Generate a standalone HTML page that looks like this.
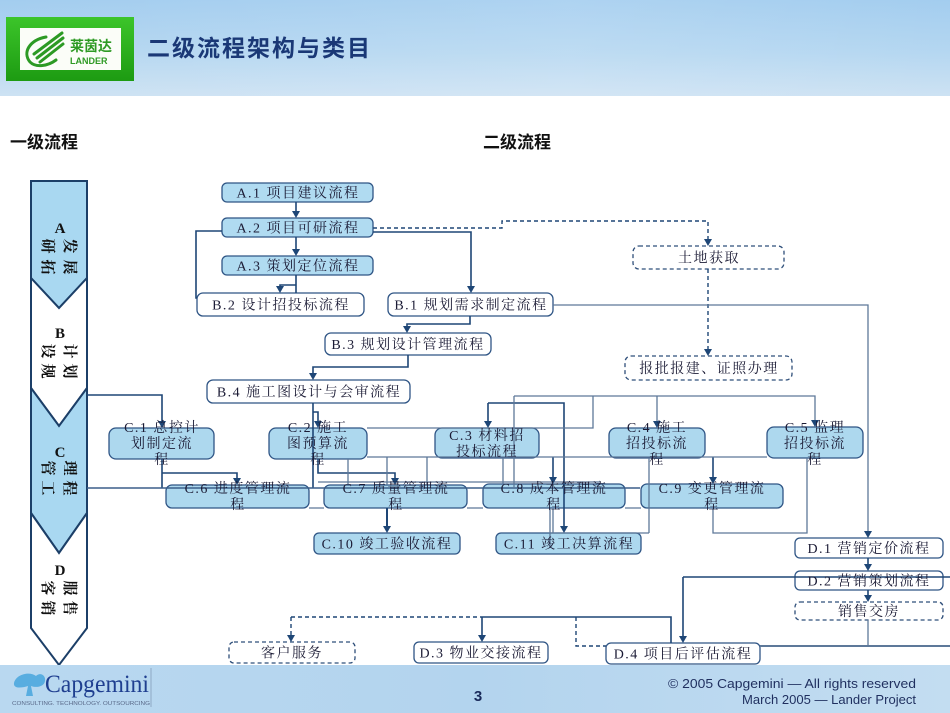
<!DOCTYPE html>
<html><head><meta charset="utf-8"><style>
html,body{margin:0;padding:0;background:#fff;}
body{width:950px;height:713px;overflow:hidden;position:relative;}
svg{display:block;position:absolute;left:0;top:0;}
</style></head><body>
<svg width="950" height="713" viewBox="0 0 950 713" xmlns="http://www.w3.org/2000/svg">
<defs>
<linearGradient id="hdr" x1="0" y1="0" x2="0" y2="1">
<stop offset="0" stop-color="#a3cdef"/><stop offset="0.55" stop-color="#b5d7f1"/><stop offset="1" stop-color="#cde2f3"/>
</linearGradient>
<linearGradient id="hdr2" x1="0" y1="0" x2="1" y2="0">
<stop offset="0" stop-color="#ffffff" stop-opacity="0"/><stop offset="0.6" stop-color="#ffffff" stop-opacity="0.12"/><stop offset="1" stop-color="#ffffff" stop-opacity="0"/>
</linearGradient>
<linearGradient id="ftr" x1="0" y1="0" x2="1" y2="0">
<stop offset="0" stop-color="#b9d8f0"/><stop offset="0.5" stop-color="#b3d4ee"/><stop offset="1" stop-color="#c3ddf1"/>
</linearGradient>
<linearGradient id="grn" x1="0" y1="0" x2="0" y2="1">
<stop offset="0" stop-color="#3cc52a"/><stop offset="1" stop-color="#1d9b12"/>
</linearGradient>
</defs>

<!-- header -->
<rect x="0" y="0" width="950" height="96" fill="url(#hdr)"/>
<rect x="0" y="0" width="950" height="96" fill="url(#hdr2)"/>
<rect x="6" y="17" width="128" height="64" fill="url(#grn)"/>
<rect x="20" y="28" width="101" height="42" fill="#fbfdf8"/>
<g fill="none" stroke="#2c9a24" stroke-width="3" stroke-linecap="round">
<path d="M46,37 C30,40 22,52 30,62 C36,68 48,66 56,60"/>
<path d="M34,54 L62,33"/>
<path d="M37,58 L63,38"/>
<path d="M40,62 L63,44"/>
</g>
<text x="70" y="51" font-family="'Noto Sans CJK SC',sans-serif" font-weight="700" font-size="14" fill="#2e9a24">莱茵达</text>
<text x="70" y="64" font-family="'Liberation Sans',sans-serif" font-weight="700" font-size="9" fill="#2e9a24">LANDER</text>
<text x="147" y="56" font-family="'Noto Sans CJK SC',sans-serif" font-weight="700" font-size="23" letter-spacing="2" fill="#1a3876">二级流程架构与类目</text>

<!-- section labels -->
<text x="10" y="148" font-family="'Noto Sans CJK SC',sans-serif" font-weight="700" font-size="17" fill="#111">一级流程</text>
<text x="483" y="148" font-family="'Noto Sans CJK SC',sans-serif" font-weight="700" font-size="17" fill="#111">二级流程</text>

<!-- left chevrons -->
<g stroke="#1c3f68" stroke-width="2" stroke-linejoin="miter">
<path d="M31,181 H87 V278 L59,308 L31,278 Z" fill="#a9d8f1"/>
<path d="M31,278 L59,308 L87,278 V388 L59,426 L31,388 Z" fill="#ffffff"/>
<path d="M31,388 L59,426 L87,388 V513 L59,553 L31,513 Z" fill="#a9d8f1"/>
<path d="M31,513 L59,553 L87,513 V628 L59,665 L31,628 Z" fill="#ffffff"/>
</g>
<g font-family="'Liberation Serif','Noto Serif CJK SC',serif" font-weight="700" font-size="15" fill="#111" text-anchor="middle">
<text x="60" y="233">A</text>
<text transform="translate(48,246) rotate(90)" dy="5">研</text>
<text transform="translate(70,246) rotate(90)" dy="5">发</text>
<text transform="translate(48,267) rotate(90)" dy="5">拓</text>
<text transform="translate(70,267) rotate(90)" dy="5">展</text>
<text x="60" y="338">B</text>
<text transform="translate(48,351) rotate(90)" dy="5">设</text>
<text transform="translate(70,351) rotate(90)" dy="5">计</text>
<text transform="translate(48,371) rotate(90)" dy="5">规</text>
<text transform="translate(70,371) rotate(90)" dy="5">划</text>
<text x="60" y="457">C</text>
<text transform="translate(48,468) rotate(90)" dy="5">管</text>
<text transform="translate(70,468) rotate(90)" dy="5">理</text>
<text transform="translate(48,488) rotate(90)" dy="5">工</text>
<text transform="translate(70,488) rotate(90)" dy="5">程</text>
<text x="60" y="575">D</text>
<text transform="translate(48,588) rotate(90)" dy="5">客</text>
<text transform="translate(70,588) rotate(90)" dy="5">服</text>
<text transform="translate(48,608) rotate(90)" dy="5">销</text>
<text transform="translate(70,608) rotate(90)" dy="5">售</text>
</g>

<!-- boxes -->
<g stroke="#2f5585" stroke-width="1.3">
<rect x="222" y="183" width="151" height="19" rx="5" fill="#b0dbf1"/>
<rect x="222" y="218" width="151" height="19" rx="5" fill="#b0dbf1"/>
<rect x="222" y="256" width="151" height="19" rx="5" fill="#b0dbf1"/>
<rect x="197" y="293" width="167" height="23" rx="6" fill="#fff"/>
<rect x="388" y="293" width="165" height="23" rx="6" fill="#fff"/>
<rect x="325" y="333" width="166" height="22" rx="6" fill="#fff"/>
<rect x="207" y="380" width="203" height="23" rx="6" fill="#fff"/>
<rect x="109" y="428" width="105" height="31" rx="7" fill="#add8ee"/>
<rect x="269" y="428" width="98" height="31" rx="7" fill="#add8ee"/>
<rect x="435" y="428" width="104" height="30" rx="7" fill="#add8ee"/>
<rect x="609" y="428" width="96" height="30" rx="7" fill="#add8ee"/>
<rect x="767" y="427" width="96" height="31" rx="7" fill="#add8ee"/>
<rect x="166" y="485" width="143" height="23" rx="6" fill="#add8ee"/>
<rect x="324" y="485" width="143" height="23" rx="6" fill="#add8ee"/>
<rect x="483" y="484" width="142" height="24" rx="6" fill="#add8ee"/>
<rect x="641" y="484" width="142" height="24" rx="6" fill="#add8ee"/>
<rect x="314" y="533" width="146" height="21" rx="5" fill="#add8ee"/>
<rect x="496" y="533" width="145" height="21" rx="5" fill="#add8ee"/>
<rect x="795" y="538" width="148" height="20" rx="5" fill="#fff"/>
<rect x="795" y="571" width="148" height="19" rx="5" fill="#fff"/>
<rect x="414" y="642" width="134" height="21" rx="5" fill="#fff"/>
<rect x="606" y="643" width="154" height="21" rx="5" fill="#fff"/>
</g>
<g stroke="#2f4f7a" stroke-width="1.3" stroke-dasharray="4,3" fill="#fff">
<rect x="633" y="246" width="151" height="23" rx="6"/>
<rect x="625" y="356" width="167" height="24" rx="6"/>
<rect x="795" y="602" width="148" height="18" rx="5"/>
<rect x="229" y="642" width="126" height="21" rx="5"/>
</g>

<!-- connectors: navy -->
<g fill="none" stroke="#1e4676" stroke-width="1.6">
<path d="M296,202 V212"/>
<path d="M296,237 V250"/>
<path d="M296,275 V293 M296,285 H280 V287"/>
<path d="M222,231 H196 V298 H197"/>
<path d="M373,232 H471 V287"/>
<path d="M470,316 V324 H407 V327"/>
<path d="M408,355 V367 H313 V374"/>
<path d="M313,403 V488 M313,412 H318 V422"/>
<path d="M87,395 H162 V422"/>
<path d="M162,459 V488 M162,473 H237 V479"/>
<path d="M318,459 V473 H395 V479"/>
<path d="M387,508 V527" stroke-width="2"/>
<path d="M488,403 H564 V527 M488,403 V422"/>
<path d="M553,457 V478"/>
<path d="M713,457 V478"/>
<path d="M868,558 V565 M868,590 V596"/>
<path d="M683,577 H950 M683,577 V637"/>
<path d="M482,617 H671 V643 M482,617 V636"/>
</g>
<g fill="none" stroke="#1e4676" stroke-width="1.4" stroke-dasharray="4,3">
<path d="M373,228 H502 V221 H708 V240"/>
<path d="M708,269 V350"/>
<path d="M291,617 H482 M291,617 V636"/>
<path d="M576,617 V646 H606"/>
</g>
<!-- connectors: grey-blue -->
<g fill="none" stroke="#5d7899" stroke-width="1.3">
<path d="M553,305 H868 V532"/>
<path d="M87,488 H640" stroke="#3b5f8a" stroke-width="1.5"/>
<path d="M367,428 H593 V396"/>
<path d="M514,396 H815 V421 M657,396 V422 M514,396 V488"/>
<path d="M348,459 V485"/>
<path d="M367,457 H767"/>
<path d="M427,457 V485 M387,457 V485 M503,458 V484"/>
<path d="M318,482 H600"/>
<path d="M649,458 V533 M550,508 V548 M553,508 V533"/>
<path d="M713,508 V533 H807 V458"/>
<path d="M550,533 H649"/>
<path d="M467,508 H483 M625,508 H641 M309,508 H324"/>
<path d="M868,620 V646"/>
<path d="M760,646 H950" stroke-width="2"/>
</g>
<!-- arrowheads -->
<g fill="#1e4676">
<polygon points="292,211 300,211 296,218"/>
<polygon points="292,249 300,249 296,256"/>
<polygon points="276,286 284,286 280,293"/>
<polygon points="467,286 475,286 471,293"/>
<polygon points="704,239 712,239 708,246"/>
<polygon points="704,349 712,349 708,356"/>
<polygon points="403,326 411,326 407,333"/>
<polygon points="309,373 317,373 313,380"/>
<polygon points="314,421 322,421 318,428"/>
<polygon points="158,421 166,421 162,428"/>
<polygon points="233,478 241,478 237,485"/>
<polygon points="391,478 399,478 395,485"/>
<polygon points="383,526 391,526 387,533"/>
<polygon points="484,421 492,421 488,428"/>
<polygon points="560,526 568,526 564,533"/>
<polygon points="653,421 661,421 657,428"/>
<polygon points="811,420 819,420 815,427"/>
<polygon points="549,477 557,477 553,484"/>
<polygon points="709,477 717,477 713,484"/>
<polygon points="864,531 872,531 868,538"/>
<polygon points="864,564 872,564 868,571"/>
<polygon points="864,595 872,595 868,602"/>
<polygon points="679,636 687,636 683,643"/>
<polygon points="478,635 486,635 482,642"/>
<polygon points="287,635 295,635 291,642"/>
</g>

<!-- box labels -->
<g font-family="'Liberation Serif','Noto Serif CJK SC',serif" font-size="14" letter-spacing="1.5" fill="#1b1b35" text-anchor="middle">
<text x="298" y="197.5">A.1 项目建议流程</text>
<text x="298" y="232.5">A.2 项目可研流程</text>
<text x="298" y="270.5">A.3 策划定位流程</text>
<text x="281" y="309.5">B.2 设计招投标流程</text>
<text x="471" y="309.5">B.1 规划需求制定流程</text>
<text x="408" y="349">B.3 规划设计管理流程</text>
<text x="309" y="396.5">B.4 施工图设计与会审流程</text>
<text x="709" y="262.5">土地获取</text>
<text x="709" y="373">报批报建、证照办理</text>
<text x="162" y="432">C.1 总控计</text>
<text x="162" y="448">划制定流</text>
<text x="162" y="464">程</text>
<text x="318" y="432">C.2 施工</text>
<text x="318" y="448">图预算流</text>
<text x="318" y="464">程</text>
<text x="487" y="440">C.3 材料招</text>
<text x="487" y="456">投标流程</text>
<text x="657" y="432">C.4 施工</text>
<text x="657" y="448">招投标流</text>
<text x="657" y="464">程</text>
<text x="815" y="432">C.5 监理</text>
<text x="815" y="448">招投标流</text>
<text x="815" y="464">程</text>
<text x="238" y="493">C.6 进度管理流</text>
<text x="238" y="509">程</text>
<text x="396" y="493">C.7 质量管理流</text>
<text x="396" y="509">程</text>
<text x="554" y="493">C.8 成本管理流</text>
<text x="554" y="509">程</text>
<text x="712" y="493">C.9 变更管理流</text>
<text x="712" y="509">程</text>
<text x="387" y="548.5">C.10 竣工验收流程</text>
<text x="569" y="548.5">C.11 竣工决算流程</text>
<text x="869" y="553">D.1 营销定价流程</text>
<text x="869" y="585.5">D.2 营销策划流程</text>
<text x="869" y="616">销售交房</text>
<text x="292" y="657.5">客户服务</text>
<text x="481" y="657.5">D.3 物业交接流程</text>
<text x="683" y="658.5">D.4 项目后评估流程</text>
</g>

<!-- footer -->
<rect x="0" y="665" width="950" height="48" fill="url(#ftr)"/>
<path d="M14,683 C16,674 30,671 36,676 C40,672 46,675 45,681 C44,687 36,688 31,686 L33,696 L26,696 L28,686 C22,688 13,689 14,683 Z" fill="#58ade0"/>
<text x="45" y="692" font-family="'Liberation Serif',serif" font-size="25" fill="#1f3f90" textLength="104" lengthAdjust="spacingAndGlyphs">Capgemini</text>
<text x="12" y="705" font-family="'Liberation Sans',sans-serif" font-size="5.5" fill="#5a6a8a" textLength="138" lengthAdjust="spacingAndGlyphs">CONSULTING. TECHNOLOGY. OUTSOURCING</text>
<line x1="151" y1="668" x2="151" y2="707" stroke="#8fa9c4" stroke-width="1"/>
<text x="478" y="701" font-family="'Liberation Sans',sans-serif" font-weight="700" font-size="15" fill="#1a2a5a" text-anchor="middle">3</text>
<text x="916" y="688" font-family="'Liberation Sans',sans-serif" font-size="13" fill="#1f2f5f" text-anchor="end" textLength="248" lengthAdjust="spacingAndGlyphs">© 2005 Capgemini — All rights reserved</text>
<text x="916" y="704" font-family="'Liberation Sans',sans-serif" font-size="13" fill="#1f2f5f" text-anchor="end" textLength="174" lengthAdjust="spacingAndGlyphs">March 2005 — Lander Project</text>
</svg>
</body></html>
